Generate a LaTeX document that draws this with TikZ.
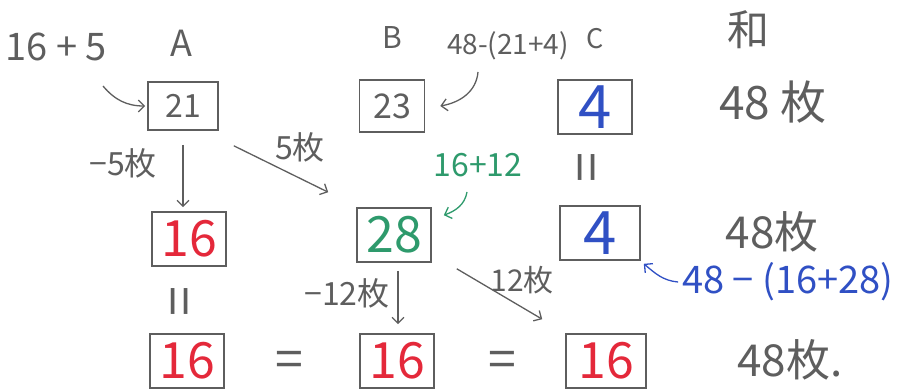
\documentclass[tikz,border=0pt]{standalone}
\usepackage{fontspec}
\setmainfont{Noto Sans CJK JP}
\usepackage{xcolor}
\definecolor{cPencil}{HTML}{5E5E5E}
\definecolor{cRed}{HTML}{E4283A}
\definecolor{cGreen}{HTML}{2E9A6C}
\definecolor{cBlue}{HTML}{3050C4}
\usepackage{tikz}
\usetikzlibrary{positioning,arrows.meta}
\newcommand{\fsz}[1]{\fontsize{#1}{#1}\selectfont}
\tikzset{
  node-box/.style={draw=cPencil,text=cPencil,line width=1.6pt,inner sep=0pt,
    minimum width=74pt,minimum height=54pt,font=\fsz{50}},
  node-text/.style={text=cPencil,inner sep=0pt,font=\fsz{32}},
  node-eq/.style={node-text,font=\fsz{50}},
  node-par/.style={node-text,font=\fsz{54},rotate=90},
  % 鉛筆の手書き矢印: 開いた矢じり
  arrow/.style={-{Straight Barb[length=6pt,width=12pt]},line width=1.3pt,draw=cPencil},
  arrow-green/.style={arrow,draw=cGreen},
  arrow-blue/.style={arrow,draw=cBlue},
}

\begin{document}
\begin{tikzpicture}[x=1pt,y=-1pt]
  \useasboundingbox (0,0) rectangle (901,390);
  % 見出し
  \node[node-text,font=\fsz{38}] (l165) at (56,47) {16 + 5};
  \node[node-text,font=\fsz{36}] (hA) at (181,43) {A};
  \node[node-text,font=\fsz{30}] (hB) at (392,38) {B};
  \node[node-text,font=\fsz{28}] (lB) at (508,46) {48-(21+4)};
  \node[node-text,font=\fsz{27}] (hC) at (595,39) {C};
  \node[node-text,font=\fsz{42}] (hSum) at (748,30) {和};
  % 1段目
  \node[node-box,minimum width=70pt,minimum height=48pt,font=\fsz{32}] (a1) at (183,106) {21};
  \node[node-box,minimum width=65pt,minimum height=52pt,font=\fsz{34}] (b1) at (392,106) {23};
  \node[node-box,text=cBlue,font=\fsz{60}] (c1) at (595,107) {4};
  \node[node-text,font=\fsz{46}] (s1) at (773,102) {48 枚};
  \node[node-text] (lA) at (123,163) {−5枚};
  \node[node-text] (lAB) at (300,147) {5枚};
  \node[node-text,text=cGreen] (lG) at (478,165) {16+12};
  \node[node-par] (eqC1) at (592,168) {=};
  % 2段目
  \node[node-box,text=cRed] (a2) at (189,239) {16};
  \node[node-box,text=cGreen] (b2) at (394,235) {28};
  \node[node-box,text=cBlue,minimum width=80pt,font=\fsz{60}] (c2) at (600,233) {4};
  \node[node-text,font=\fsz{44}] (s2) at (772,232) {48枚};
  \node[node-par] (eqA2) at (185,302) {=};
  \node[node-text] (lB2) at (347,293) {−12枚};
  \node[node-text,font=\fsz{30}] (lBC) at (522,280) {12枚};
  \node[node-text,text=cBlue,font=\fsz{38}] (lC) at (788,282) {48 − (16+28)};
  % 3段目
  \node[node-box,text=cRed] (a3) at (187,361) {16};
  \node[node-eq] (eq1) at (289,364) {=};
  \node[node-box,text=cRed] (b3) at (397,361) {16};
  \node[node-eq] (eq2) at (502,364) {=};
  \node[node-box,text=cRed,minimum width=80pt] (c3) at (606,361) {16};
  \node[node-text,font=\fsz{44}] (s3) at (790,360) {48枚.};
  % 矢印
  \coordinate (t165) at (103,86);
  \coordinate (tB) at (478,72);
  \coordinate (tG) at (467,192);
  \draw[arrow] (t165) to[out=-50,in=180] ([xshift=-2pt]a1.west);
  \draw[arrow] (tB) to[out=-95,in=10] ([xshift=15pt]b1.east);
  \draw[arrow,shorten <=14pt,shorten >=4pt] (a1.south) -- (a1.south |- a2.north);
  \draw[arrow] ([shift={(15pt,-15pt)}]a1.south east) -- ([shift={(-28pt,15pt)}]b2.north west);
  \draw[arrow-green] (tG) to[out=-100,in=20] ([shift={(12pt,-8pt)}]b2.north east);
  \draw[arrow,shorten <=8pt,shorten >=9pt] ([xshift=4pt]b2.south) -- ([xshift=4pt]b2.south |- b3.north);
  \draw[arrow] ([shift={(25pt,-6pt)}]b2.south east) -- ([shift={(-23pt,14pt)}]c3.north west);
  \draw[arrow-blue] ([xshift=-4pt]lC.west) to[out=175,in=-40] ([shift={(3pt,-3pt)}]c2.south east);
\end{tikzpicture}
\end{document}
